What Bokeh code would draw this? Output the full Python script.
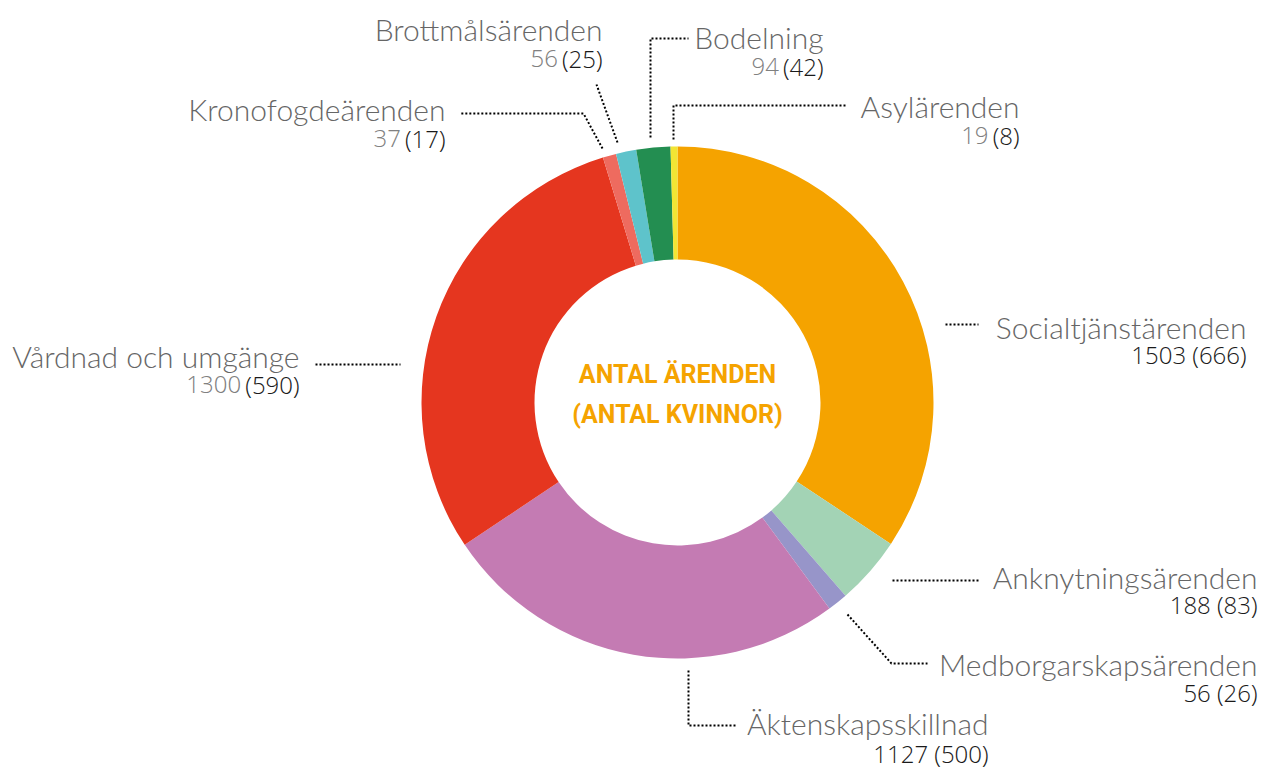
import math
from bokeh.plotting import figure
from bokeh.models import Range1d
from bokeh.core.properties import value
from bokeh.embed import file_html
from bokeh.resources import INLINE

# ---- data (clockwise from 12 o'clock) ----
categories = ["Socialtjänstärenden", "Anknytningsärenden", "Medborgarskapsärenden",
              "Äktenskapsskillnad", "Vårdnad och umgänge", "Kronofogdeärenden",
              "Brottmålsärenden", "Bodelning", "Asylärenden"]
antal = [1503, 188, 56, 1127, 1300, 37, 56, 94, 19]
kvinnor = [666, 83, 26, 500, 590, 17, 25, 42, 8]
colors = ["#F5A300", "#A3D3B5", "#9795C9", "#C47BB3", "#E5361F",
          "#EE6B5F", "#5EC3CB", "#238E51", "#F2E534"]
center_title = ["ANTAL ÄRENDEN", "(ANTAL KVINNOR)"]

# ---- layout (screen pixel coordinates of the 1262x769 picture) ----
W, H = 1262, 769
TEXT_DY = 10  # renderer places alphabetic baseline a little low
def Y(sy):
    return H - sy
def YT(sy):
    return H - (sy - TEXT_DY)

cx, cy = 677, Y(402)
r_in, r_out = 143, 256

# label layout: right edge x, name baseline, number baseline, grey first number?
label_layout = {
    "Socialtjänstärenden": (1246, 336, 364, False),
    "Anknytningsärenden": (1257, 586, 614, False),
    "Medborgarskapsärenden": (1257, 673, 702, False),
    "Äktenskapsskillnad": (988, 732, 763, False),
    "Vårdnad och umgänge": (299, 365, 394, True),
    "Kronofogdeärenden": (445, 118, 148, True),
    "Brottmålsärenden": (602, 38, 68, True),
    "Bodelning": (823, 46, 76, True),
    "Asylärenden": (1019, 115, 145, True),
}
leaders = {
    "Socialtjänstärenden": [(945, 324), (978, 324)],
    "Anknytningsärenden": [(892, 580), (978, 580)],
    "Medborgarskapsärenden": [(847, 614), (891, 663), (927, 663)],
    "Äktenskapsskillnad": [(688, 670), (688, 725), (735, 725)],
    "Vårdnad och umgänge": [(315, 364), (400, 364)],
    "Kronofogdeärenden": [(602, 148), (583, 113), (460, 113)],
    "Brottmålsärenden": [(617, 142), (596, 84)],
    "Bodelning": [(650, 137), (650, 38), (688, 38)],
    "Asylärenden": [(673, 139), (673, 105), (847, 105)],
}

p = figure(width=W, height=H, output_backend="svg", toolbar_location=None,
           x_range=Range1d(0, W), y_range=Range1d(0, H),
           min_border=0, outline_line_color=None, background_fill_color="white",
           border_fill_color="white")
p.axis.visible = False
p.grid.visible = False

total = sum(antal)
starts, ends = [], []
cum = 0
for v in antal:
    starts.append(math.pi / 2 - 2 * math.pi * cum / total)
    cum += v
    ends.append(math.pi / 2 - 2 * math.pi * cum / total)

p.annular_wedge(x=[cx] * len(antal), y=[cy] * len(antal), inner_radius=r_in,
                outer_radius=r_out, start_angle=starts, end_angle=ends,
                direction="clock", fill_color=colors, line_color=None)

# leader lines
for name in categories:
    pts = leaders[name]
    p.line([q[0] for q in pts], [Y(q[1]) for q in pts], line_color="#000000",
           line_width=2, line_dash="2 2")

name_font = value("Lato Light, Lato")
num_font = value("Open Sans Light, Open Sans")
NAME_SIZE = 30
NUM_SIZE = 24
digit_w = 0.572 * NUM_SIZE
paren_w = 0.296 * NUM_SIZE

for name, a, k in zip(categories, antal, kvinnor):
    xr, yb_name, yb_num, grey_first = label_layout[name]
    p.text(x=[xr], y=[YT(yb_name)], text=[name], text_font=name_font,
           text_font_size=f"{NAME_SIZE}px", text_color="#666666",
           text_align="right", text_baseline="alphabetic")
    if grey_first:
        paren = f"({k})"
        p.text(x=[xr], y=[YT(yb_num)], text=[paren], text_font=num_font,
               text_font_size=f"{NUM_SIZE}px", text_color="#1a1a1a",
               text_align="right", text_baseline="alphabetic")
        wpar = len(str(k)) * digit_w + 2 * paren_w
        p.text(x=[xr - wpar - 3], y=[YT(yb_num)], text=[str(a)], text_font=num_font,
               text_font_size=f"{NUM_SIZE}px", text_color="#808080",
               text_align="right", text_baseline="alphabetic")
    else:
        p.text(x=[xr], y=[YT(yb_num)], text=[f"{a} ({k})"], text_font=num_font,
               text_font_size=f"{NUM_SIZE}px", text_color="#1a1a1a",
               text_align="right", text_baseline="alphabetic")

# centre title
p.text(x=[cx, cx], y=[YT(384), YT(424)], text=center_title,
       text_font=value("Roboto"), text_font_style="bold",
       text_font_size="25px", text_color="#F5A300", text_align="center",
       text_baseline="alphabetic")

open("out.html", "w").write(file_html(p, INLINE))
